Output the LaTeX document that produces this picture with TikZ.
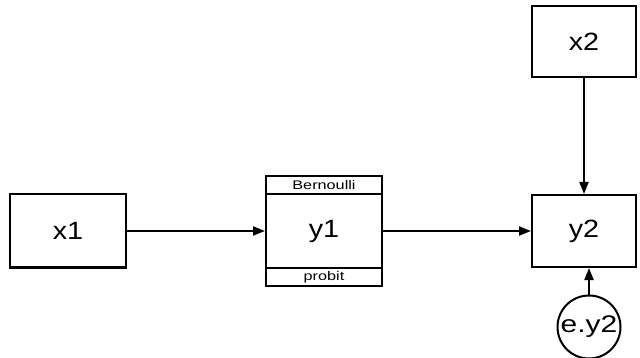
\documentclass[tikz,border=0pt]{standalone}
\usepackage{fontspec}
\setmainfont{Liberation Sans}
\usetikzlibrary{arrows.meta}
\begin{document}
\begin{tikzpicture}[x=1pt,y=-1pt,
  box/.style={draw,line width=2pt,inner sep=0pt,font=\fontsize{25}{25}\selectfont},
  strip/.style={draw,line width=2pt,inner sep=0pt,outer sep=0pt,font=\fontsize{12.5}{12.5}\selectfont},
  conn/.style={line width=2pt,-{Triangle[length=12pt,width=9pt]}}]
\useasboundingbox (0,0) rectangle (640,358);
\node[box,minimum width=116pt,minimum height=73pt] (x1) at (68,231) {\scalebox{1.15}[1]{x1}};
\node[box,outer sep=0pt,minimum width=116pt,minimum height=74pt] (y1) at (324,231) {\scalebox{1.15}[1]{y1}};
\node[strip,minimum width=116pt,minimum height=18pt,anchor=south] (bern) at (y1.north) {\scalebox{1.3}[1]{Bernoulli}};
\node[strip,minimum width=116pt,minimum height=18pt,anchor=north] (prob) at (y1.south) {\scalebox{1.3}[1]{probit}};
\node[box,minimum width=104pt,minimum height=71pt] (x2) at (584,42) {\scalebox{1.15}[1]{x2}};
\node[box,minimum width=104pt,minimum height=72pt] (y2) at (584,231) {\scalebox{1.15}[1]{y2}};
\node[draw,circle,line width=2pt,minimum size=63pt,inner sep=0pt,font=\fontsize{24}{24}\selectfont] (e) at (589,327) {\scalebox{1.25}[1]{e.y2}};
\draw[conn] (x1.east) -- ([xshift=-1pt]y1.west);
\draw[conn] ([xshift=1pt]y1.east) -- (y2.west);
\draw[conn] (x2.south) -- (y2.north);
\draw[conn] (e.north) -- (e.north |- y2.south);
\end{tikzpicture}
\end{document}
